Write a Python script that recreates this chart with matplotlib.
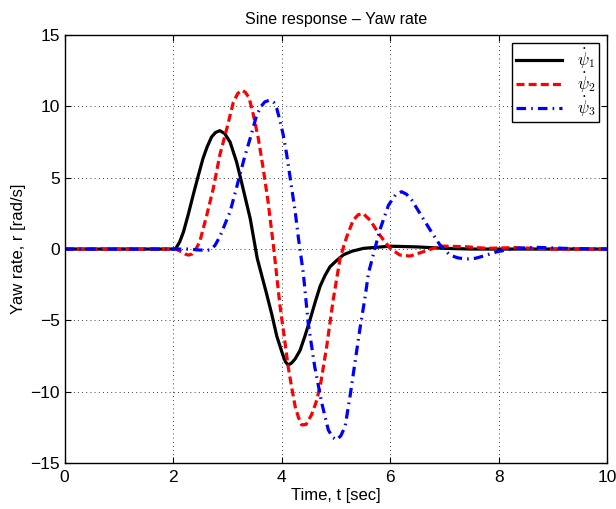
import matplotlib
matplotlib.use("Agg")
import matplotlib.pyplot as plt

plt.rcParams['font.family'] = ['Liberation Sans', 'DejaVu Sans']
plt.rcParams['mathtext.fontset'] = 'cm'
plt.rcParams['font.size'] = 11.5

# psi_1 (black, solid)
t1 = [0, 2.0, 2.05, 2.12, 2.19, 2.28, 2.37, 2.46, 2.55, 2.63, 2.71, 2.78, 2.86,
      2.95, 3.05, 3.17, 3.26, 3.42, 3.55, 3.72, 3.82, 3.91, 4.02, 4.07, 4.12,
      4.18, 4.25, 4.34, 4.43, 4.52, 4.62, 4.71, 4.8, 4.89, 5.0, 5.14, 5.3,
      5.51, 6.0, 6.5, 7.0, 7.5, 10]
y1 = [0, 0, 0.05, 0.5, 1.2, 2.45, 3.8, 5.1, 6.35, 7.2, 7.87, 8.17, 8.3,
      8.1, 7.5, 6.1, 4.7, 2.15, -0.65, -3.1, -4.6, -6.1, -7.4, -7.9, -8.13,
      -8.0, -7.7, -7.1, -6.1, -5.0, -3.7, -2.6, -1.85, -1.25, -0.85, -0.4, -0.15,
      0.05, 0.2, 0.15, 0.05, 0.0, 0]

# psi_2 (red, dashed)
t2 = [0, 2.05, 2.15, 2.22, 2.28, 2.35, 2.42, 2.49, 2.62, 2.74, 2.86, 2.99, 3.11,
      3.19, 3.26, 3.33, 3.4, 3.48, 3.57, 3.66, 3.75, 3.85, 3.97, 4.05, 4.12,
      4.19, 4.25, 4.31, 4.37, 4.45, 4.55, 4.63, 4.71, 4.83, 4.95, 5.08, 5.2,
      5.32, 5.41, 5.5, 5.63, 5.81, 6.0, 6.18, 6.37, 6.61, 6.92, 7.41, 7.78,
      8.3, 9.0, 10]
y2 = [0, 0, -0.19, -0.35, -0.42, -0.35, 0.0, 0.51, 2.38, 4.25, 6.59, 8.46, 10.3,
      10.9, 11.14, 11.0, 10.6, 9.39, 7.76, 5.65, 3.32, 0.2, -4.0, -6.2, -8.25,
      -9.8, -11.05, -11.8, -12.33, -12.3, -11.63, -10.8, -9.65, -6.85, -3.57, -0.6, 0.86,
      2.03, 2.4, 2.5, 2.03, 0.98, 0.05, -0.42, -0.49, -0.19, 0.21, 0.16, 0.05,
      0.1, 0.0, 0]

# psi_3 (blue, dash-dot)
t3 = [0, 2.3, 2.49, 2.68, 2.77, 2.86, 2.95, 3.05, 3.14, 3.23, 3.32, 3.42, 3.54,
      3.62, 3.69, 3.78, 3.85, 3.91, 3.97, 4.03, 4.09, 4.15, 4.2, 4.25, 4.31,
      4.4, 4.49, 4.61, 4.74, 4.86, 4.94, 5.01, 5.09, 5.17, 5.26, 5.35, 5.44,
      5.54, 5.6, 5.69, 5.81, 5.97, 6.1, 6.21, 6.3, 6.4, 6.55, 6.74, 6.92,
      7.1, 7.25, 7.41, 7.57, 7.72, 7.97, 8.3, 8.7, 9.2, 10]
y3 = [0, 0, -0.07, -0.07, 0.25, 0.86, 1.7, 2.62, 3.9, 5.19, 6.5, 7.76, 9.39,
      10.0, 10.32, 10.44, 10.3, 9.86, 9.0, 7.99, 6.7, 5.19, 3.9, 2.62, 0.75,
      -1.7, -5.2, -8.25, -10.8, -12.68, -13.2, -13.38, -13.1, -12.45, -10.35, -8.01, -5.68,
      -3.34, -1.7, -0.4, 1.33, 3.08, 3.8, 4.02, 3.85, 3.43, 2.5, 1.33, 0.28,
      -0.42, -0.62, -0.7, -0.65, -0.49, -0.19, 0.05, 0.12, 0.05, 0]

labels = [r'$\dot{\psi}_1$', r'$\dot{\psi}_2$', r'$\dot{\psi}_3$']

fig = plt.figure(figsize=(6.16, 5.09), dpi=100)
ax = fig.add_axes([0.105, 0.0904, 0.8805, 0.8406])

ax.plot(t1, y1, color='k', lw=2.3, label=labels[0])
ax.plot(t2, y2, color='r', lw=2.3, dashes=(2.5, 1.3), label=labels[1])
ax.plot(t3, y3, color='b', lw=2.3, dashes=(3.0, 1.6, 0.5, 1.6), label=labels[2])

ax.set_xlim(0, 10)
ax.set_ylim(-15, 15)
ax.set_xticks(range(0, 11, 2))
ax.set_yticks(range(-15, 16, 5))
ax.tick_params(direction='in', top=True, right=True, length=4, width=0.8,
               labelsize=12.5)
ax.tick_params(axis='x', pad=5)
ax.grid(True, color='k', linestyle=(0, (1, 4)), lw=0.6)
for s in ax.spines.values():
    s.set_linewidth(1.0)

ax.set_title('Sine response \u2013 Yaw rate', fontsize=11.5, pad=8)
ax.set_xlabel('Time, t [sec]', fontsize=12, labelpad=2)
ax.set_ylabel('Yaw rate, r [rad/s]', fontsize=12, labelpad=3)

leg = ax.legend(loc='upper right', fancybox=False, edgecolor='k', framealpha=1,
                fontsize=12, handlelength=2.75, handletextpad=0.9,
                labelspacing=0.0, borderpad=0.2, borderaxespad=0.5)
leg.get_frame().set_linewidth(1.0)

fig.savefig('out.png', dpi=100)
